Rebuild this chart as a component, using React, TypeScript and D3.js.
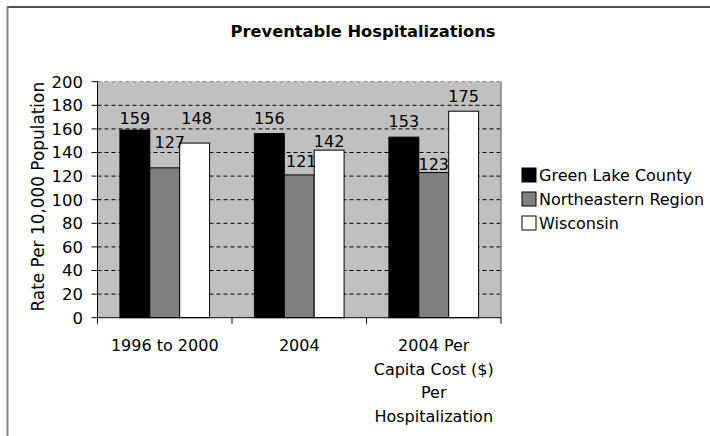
import React from "react";
import * as d3 from "d3";

const categories: string[][] = [
  ["1996 to 2000"],
  ["2004"],
  ["2004 Per", "Capita Cost ($)", "Per", "Hospitalization"],
];
const seriesNames = ["Green Lake County", "Northeastern Region", "Wisconsin"];
const greenLake = [159, 156, 153];
const northeastern = [127, 121, 123];
const wisconsin = [148, 142, 175];
const yTicks = [0, 20, 40, 60, 80, 100, 120, 140, 160, 180, 200];
const title = "Preventable Hospitalizations";
const yTitle = "Rate Per 10,000 Population";

// label nudges [dx, dy] per series / category (layout only)
const labelNudge: number[][][] = [
  [[0, -6], [0, -10], [0, -10]],
  [[5, -20], [2, -8], [0, -3]],
  [[2, -19], [0, -3], [0, -9]],
];

const colors = ["#000000", "#808080", "#ffffff"];
const FONT = "'DejaVu Sans', Verdana, sans-serif";

export default function App() {
  const W = 710, H = 436;
  const left = 97.5, right = 501, top = 81.7, bottom = 317.7;
  const series = [greenLake, northeastern, wisconsin];
  const idx = categories.map((_, i) => String(i));

  const x0 = d3.scaleBand<string>().domain(idx).range([left, right]).paddingInner(0).paddingOuter(0);
  const inner = d3.scaleBand<string>().domain(seriesNames).range([0, x0.bandwidth()]).paddingOuter(0.75).paddingInner(0);
  const y = d3.scaleLinear().domain([0, 200]).range([bottom, top]);

  return (
    <svg width={W} height={H} style={{ position: "absolute", left: 0, top: 0, background: "#fff" }} fontFamily={FONT}>
      {/* outer frame */}
      <line x1={7} x2={W} y1={7} y2={7} stroke="#1a1a1a" strokeWidth={1.5} />
      <line x1={7.5} x2={7.5} y1={7} y2={H} stroke="#808080" strokeWidth={2} />

      <text x={363} y={37} textAnchor="middle" fontSize={16.3} fontWeight="bold" fill="#000">{title}</text>

      {/* plot area */}
      <rect x={left} y={top} width={right - left} height={bottom - top} fill="#c0c0c0" />
      {yTicks.filter(t => t > 0 && t < 200).map(t => (
        <line key={t} x1={left} x2={right} y1={y(t)} y2={y(t)} stroke="#000" strokeDasharray="4,3" strokeWidth={1} />
      ))}
      <line x1={left} x2={right} y1={y(200)} y2={y(200)} stroke="#808080" strokeDasharray="4,3" strokeWidth={1} />
      <line x1={right} x2={right} y1={top} y2={bottom} stroke="#808080" strokeWidth={1.5} />

      {/* bars */}
      {series.map((vals, s) => vals.map((v, c) => (
        <rect key={`${s}-${c}`}
          x={(x0(String(c)) as number) + (inner(seriesNames[s]) as number)}
          y={y(v)} width={inner.bandwidth()} height={bottom - y(v)}
          fill={colors[s]} stroke="#000" strokeWidth={1} />
      )))}

      {/* value labels */}
      {series.map((vals, s) => vals.map((v, c) => (
        <text key={`l${s}-${c}`}
          x={(x0(String(c)) as number) + (inner(seriesNames[s]) as number) + inner.bandwidth() / 2 + labelNudge[s][c][0]}
          y={y(v) + labelNudge[s][c][1]} textAnchor="middle" fontSize={16} fill="#000">{v}</text>
      )))}

      {/* axes */}
      <line x1={left} x2={left} y1={top} y2={bottom} stroke="#000" strokeWidth={1} />
      <line x1={left} x2={right} y1={bottom} y2={bottom} stroke="#000" strokeWidth={1} />
      {yTicks.map(t => (
        <g key={t}>
          <line x1={left - 6} x2={left} y1={y(t)} y2={y(t)} stroke="#000" />
          <text x={83} y={y(t)} dy="0.36em" textAnchor="end" fontSize={16.5} fill="#000">{t}</text>
        </g>
      ))}
      {[...idx.map(i => x0(i) as number), right].map((xv, i) => (
        <line key={i} x1={xv} x2={xv} y1={bottom} y2={bottom + 6} stroke="#000" />
      ))}
      {categories.map((lines, c) => (
        <text key={c} x={(x0(String(c)) as number) + x0.bandwidth() / 2} y={351} textAnchor="middle" fontSize={16} fill="#000">
          {lines.map((ln, k) => (
            <tspan key={k} x={(x0(String(c)) as number) + x0.bandwidth() / 2} dy={k === 0 ? 0 : 23.5}>{ln}</tspan>
          ))}
        </text>
      ))}
      <text transform={`translate(44,${(top + bottom) / 2 - 3}) rotate(-90)`} textAnchor="middle" fontSize={16.9} fill="#000">{yTitle}</text>

      {/* legend */}
      {seriesNames.map((n, i) => (
        <g key={n} transform={`translate(522,${175 + i * 24})`}>
          <rect x={0} y={-7} width={14} height={14} fill={colors[i]} stroke="#000" strokeWidth={1} />
          <text x={17} y={0} dy="0.36em" fontSize={16} fill="#000">{n}</text>
        </g>
      ))}
    </svg>
  );
}
